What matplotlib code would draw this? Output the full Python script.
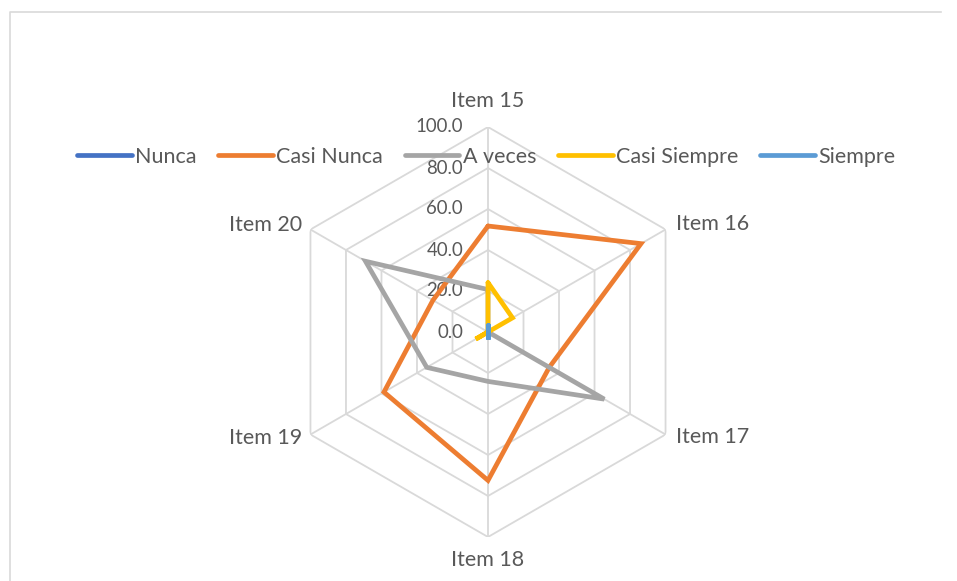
import matplotlib
matplotlib.use('Agg')
import matplotlib.pyplot as plt
import numpy as np
from matplotlib.lines import Line2D

# Data
items = ['Item 15', 'Item 16', 'Item 17', 'Item 18', 'Item 19', 'Item 20']
nunca = [0.0, 0.0, 0.0, 0.0, 0.0, 0.0]
casi_nunca = [51.7, 86.2, 34.5, 72.4, 58.6, 31.0]
a_veces = [20.7, 0.0, 65.5, 24.1, 34.5, 69.0]
casi_siempre = [24.1, 13.8, 0.0, 0.0, 6.9, 0.0]
siempre = [3.4, 0.0, 0.0, 3.4, 0.0, 0.0]
levels = [0, 20, 40, 60, 80, 100]

series = [('Nunca', nunca, '#4472C4'),
          ('Casi Nunca', casi_nunca, '#ED7D31'),
          ('A veces', a_veces, '#A5A5A5'),
          ('Casi Siempre', casi_siempre, '#FFC000'),
          ('Siempre', siempre, '#5B9BD5')]

font = 'Lato'
txt_color = '#595959'
grid_color = '#d9d9d9'

W, H = 957, 581
fig = plt.figure(figsize=(W / 100, H / 100), dpi=100)

# Chart area border: top and left edges are the visible ones
fig.lines.append(Line2D([10 / W, 10 / W, 941 / W], [0, 1 - 12 / H, 1 - 12 / H],
                        transform=fig.transFigure, color=grid_color, lw=1.2))

cx, cy, R = 488, 332, 205
ax = fig.add_axes([(cx - R) / W, (H - cy - R) / H, 2 * R / W, 2 * R / H],
                  projection='polar')
ax.set_theta_offset(np.pi / 2)
ax.set_theta_direction(-1)
ax.set_ylim(0, 100)
ax.axis('off')

n = len(items)
theta = np.linspace(0, 2 * np.pi, n, endpoint=False)
theta_c = np.append(theta, theta[0])

# Hexagonal grid and spokes
for lv in levels[1:]:
    ax.plot(theta_c, [lv] * (n + 1), color=grid_color, lw=1.3, zorder=1)
for t in theta:
    ax.plot([t, t], [0, 100], color=grid_color, lw=1.3, zorder=1)

# Series
for i, (name, vals, col) in enumerate(series):
    ax.plot(theta_c, list(vals) + [vals[0]], color=col, lw=3.4, label=name,
            solid_capstyle='round', solid_joinstyle='miter', zorder=3 + i)

# Radial value labels
for lv in levels:
    ax.annotate(f'{lv:.1f}', xy=(0, lv), xytext=(-25, 0),
                textcoords='offset pixels', ha='right', va='center',
                fontsize=13.4, color=txt_color, family=font, zorder=2)

# Category labels
offsets = [((0, 26), 'center', 'center'),
           ((10, 5), 'left', 'center'),
           ((10, -3), 'left', 'center'),
           ((0, -23), 'center', 'center'),
           ((-8, -3), 'right', 'center'),
           ((-8, 5), 'right', 'center')]
for t, lab, (off, ha, va) in zip(theta, items, offsets):
    ax.annotate(lab, xy=(t, 100), xytext=off, textcoords='offset pixels',
                ha=ha, va=va, fontsize=15.5, color=txt_color, family=font,
                annotation_clip=False)

leg = fig.legend(loc='center', bbox_to_anchor=(486 / W, 1 - 157 / H), ncol=5,
                 frameon=False, prop={'family': font, 'size': 15.5},
                 labelcolor=txt_color, handlelength=2.55, handletextpad=0.15,
                 columnspacing=1.0)
for h in leg.get_lines():
    h.set_linewidth(3.4)
    h.set_solid_capstyle('round')

fig.savefig('out.png', dpi=100)
